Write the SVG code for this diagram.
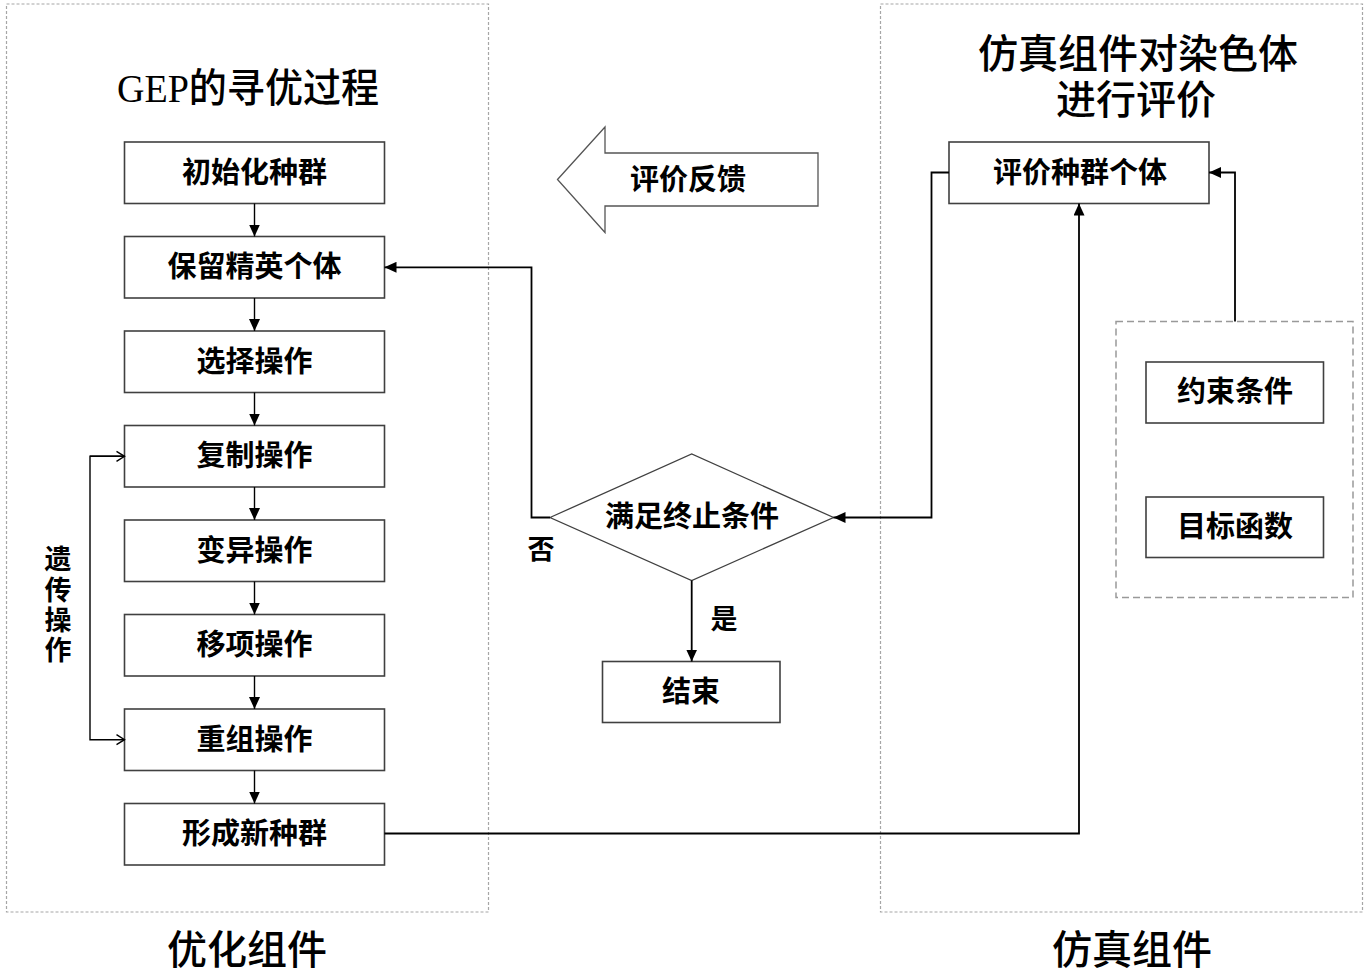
<svg xmlns="http://www.w3.org/2000/svg" width="1370" height="978" viewBox="0 0 1370 978">
<style>
.cont{fill:none;stroke:#a6a6a6;stroke-width:1.2;stroke-dasharray:3 2}
.inner{fill:none;stroke:#999;stroke-width:1.5;stroke-dasharray:7 4}
.box{fill:#fff;stroke:#404040;stroke-width:1.6}
.bt{font-family:"Liberation Serif","Noto Sans CJK SC",serif;font-size:29px;font-weight:bold;fill:#000;text-anchor:middle;dominant-baseline:central}
.title{font-family:"Liberation Serif","Noto Sans CJK SC",serif;font-size:40px;font-weight:500;fill:#000;text-anchor:middle;dominant-baseline:central}
.lbl{font-family:"Liberation Serif","Noto Sans CJK SC",serif;font-size:27px;font-weight:bold;fill:#000;text-anchor:middle;dominant-baseline:central}
.ln{fill:none;stroke:#000;stroke-width:1.8}
.thin{fill:none;stroke:#000;stroke-width:1.4}
</style>
<defs>
<marker id="ah" markerUnits="userSpaceOnUse" markerWidth="12" markerHeight="11" refX="12" refY="5.5" orient="auto">
<path d="M0,0 L12,5.5 L0,11 z" fill="#000"/>
</marker>
<marker id="oh" markerUnits="userSpaceOnUse" markerWidth="10" markerHeight="12" refX="9" refY="6" orient="auto">
<path d="M1,1 L9,6 L1,11" fill="none" stroke="#000" stroke-width="1.4"/>
</marker>
</defs>
<rect width="1370" height="978" fill="#fff"/>

<g id="containers">
<rect class="cont" x="6.5" y="4" width="482" height="908"/>
<rect class="cont" x="880.5" y="4" width="482" height="908"/>
<rect class="inner" x="1116" y="321.5" width="237" height="276"/>
</g>

<g id="titles">
<text class="title" x="117" y="88" style="text-anchor:start" textLength="262" lengthAdjust="spacingAndGlyphs">GEP的寻优过程</text>
<text class="title" x="1138" y="54">仿真组件对染色体</text>
<text class="title" x="1136" y="100">进行评价</text>
<text class="title" x="247" y="950">优化组件</text>
<text class="title" x="1132" y="950">仿真组件</text>
</g>

<g id="feedback-arrow">
<polygon points="557.5,179.5 605,127 605,153 818,153 818,206 605,206 605,232.5" fill="#fff" stroke="#555" stroke-width="1.3"/>
<text class="bt" x="688" y="180">评价反馈</text>
</g>

<g id="n1"><rect class="box" x="124.5" y="142" width="260" height="61.5"/><text class="bt" x="254.5" y="172.5">初始化种群</text></g>
<g id="n2"><rect class="box" x="124.5" y="236.5" width="260" height="61.5"/><text class="bt" x="254.5" y="267">保留精英个体</text></g>
<g id="n3"><rect class="box" x="124.5" y="331" width="260" height="61.5"/><text class="bt" x="254.5" y="361.5">选择操作</text></g>
<g id="n4"><rect class="box" x="124.5" y="425.5" width="260" height="61.5"/><text class="bt" x="254.5" y="456">复制操作</text></g>
<g id="n5"><rect class="box" x="124.5" y="520" width="260" height="61.5"/><text class="bt" x="254.5" y="550.5">变异操作</text></g>
<g id="n6"><rect class="box" x="124.5" y="614.5" width="260" height="61.5"/><text class="bt" x="254.5" y="645">移项操作</text></g>
<g id="n7"><rect class="box" x="124.5" y="709" width="260" height="61.5"/><text class="bt" x="254.5" y="739.5">重组操作</text></g>
<g id="n8"><rect class="box" x="124.5" y="803.5" width="260" height="61.5"/><text class="bt" x="254.5" y="834">形成新种群</text></g>

<g id="eval"><rect class="box" x="949" y="142" width="260" height="61.5"/><text class="bt" x="1080" y="172.5">评价种群个体</text></g>
<g id="constraint"><rect class="box" x="1146" y="362" width="177.5" height="61"/><text class="bt" x="1235" y="392">约束条件</text></g>
<g id="objective"><rect class="box" x="1146" y="497" width="177.5" height="60.5"/><text class="bt" x="1235" y="527">目标函数</text></g>

<g id="decision"><polygon points="550,517.5 691.7,454 833.5,517.5 691.7,580.5" fill="#fff" stroke="#404040" stroke-width="1.3"/><text class="bt" x="692" y="517">满足终止条件</text></g>
<g id="end"><rect class="box" x="602.5" y="661.5" width="177.5" height="61"/><text class="bt" x="691" y="691.5">结束</text></g>

<g id="genetic-label">
<text class="lbl" x="58" y="560">遗</text>
<text class="lbl" x="58" y="591">传</text>
<text class="lbl" x="58" y="621">操</text>
<text class="lbl" x="58" y="651">作</text>
</g>

<g id="connectors">
<line class="thin" x1="254.5" y1="203.5" x2="254.5" y2="236.5" marker-end="url(#ah)"/>
<line class="thin" x1="254.5" y1="298" x2="254.5" y2="331" marker-end="url(#ah)"/>
<line class="thin" x1="254.5" y1="392.5" x2="254.5" y2="425.5" marker-end="url(#ah)"/>
<line class="thin" x1="254.5" y1="487" x2="254.5" y2="520" marker-end="url(#ah)"/>
<line class="thin" x1="254.5" y1="581.5" x2="254.5" y2="614.5" marker-end="url(#ah)"/>
<line class="thin" x1="254.5" y1="676" x2="254.5" y2="709" marker-end="url(#ah)"/>
<line class="thin" x1="254.5" y1="770.5" x2="254.5" y2="803.5" marker-end="url(#ah)"/>
<polyline class="thin" points="124.5,456.3 90,456.3 90,739.7 124.5,739.7" marker-end="url(#oh)"/>
<line class="thin" x1="90" y1="456.3" x2="124.5" y2="456.3" marker-end="url(#oh)"/>
<polyline class="ln" points="384.5,833.5 1079,833.5 1079,203.5" marker-end="url(#ah)"/>
<polyline class="ln" points="1235,321.5 1235,172.5 1209,172.5" marker-end="url(#ah)"/>
<polyline class="ln" points="949,172.5 931.5,172.5 931.5,517.5 833.5,517.5" marker-end="url(#ah)"/>
<polyline class="ln" points="550,517.5 531.5,517.5 531.5,267.3 384.5,267.3" marker-end="url(#ah)"/>
<line class="ln" x1="691.7" y1="580.5" x2="691.7" y2="661.5" marker-end="url(#ah)"/>
<text class="lbl" x="541" y="550">否</text>
<text class="lbl" x="724" y="620">是</text>
</g>
</svg>
